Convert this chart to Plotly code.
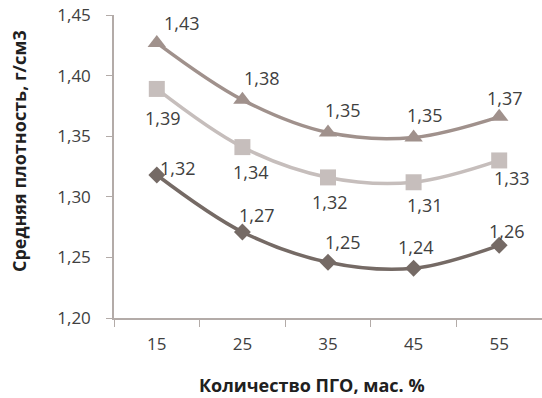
import plotly.graph_objects as go

categories = ["15", "25", "35", "45", "55"]
tri_values = [1.427, 1.380, 1.353, 1.349, 1.366]
tri_labels = ["1,43", "1,38", "1,35", "1,35", "1,37"]
sq_values = [1.389, 1.341, 1.316, 1.312, 1.330]
sq_labels = ["1,39", "1,34", "1,32", "1,31", "1,33"]
dia_values = [1.318, 1.271, 1.246, 1.241, 1.260]
dia_labels = ["1,32", "1,27", "1,25", "1,24", "1,26"]
y_ticks = [1.20, 1.25, 1.30, 1.35, 1.40, 1.45]
y_tick_labels = ["1,20", "1,25", "1,30", "1,35", "1,40", "1,45"]

# label offsets (pixels, x right / y up) relative to each marker
tri_offsets = [(25, 20), (20, 22), (15, 23), (11, 22), (6, 19)]
sq_offsets = [(6, -29), (9, -25), (2, -25), (11, -23), (13, -18)]
dia_offsets = [(21, 7), (15, 17), (15, 20), (2, 21), (8, 14)]

FONT = "Open Sans"
TXT = "#404040"

series = [
    (tri_values, tri_labels, tri_offsets, "#a0918c", "triangle-up", 16),
    (sq_values, sq_labels, sq_offsets, "#c6bebc", "square", 16),
    (dia_values, dia_labels, dia_offsets, "#756a65", "diamond", 13),
]

fig = go.Figure()
annotations = []
for vals, labels, offs, color, symbol, msize in series:
    fig.add_trace(go.Scatter(
        x=categories, y=vals, mode="lines+markers",
        line=dict(color=color, width=3.5, shape="spline", smoothing=1),
        marker=dict(symbol=symbol, size=msize, color=color),
        cliponaxis=False, hoverinfo="skip",
    ))
    for i, (v, t, (dx, dy)) in enumerate(zip(vals, labels, offs)):
        annotations.append(dict(
            x=i, y=v, xref="x", yref="y", text=t, showarrow=False,
            xanchor="center", yanchor="middle", xshift=dx, yshift=dy,
            font=dict(family=FONT, size=18, color=TXT),
        ))

annotations += [
    dict(text="<b>Количество ПГО, мас. %</b>", xref="paper", yref="paper",
         x=(312 - 114) / 428, y=-(385 - 318) / 303, xanchor="center", yanchor="middle",
         showarrow=False, font=dict(family=FONT, size=18, color="#202020")),
    dict(text="<b>Средняя плотность, г/см3</b>", xref="paper", yref="paper",
         x=-(114 - 19) / 428, y=(318 - 151) / 303, xanchor="center", yanchor="middle",
         textangle=-90, showarrow=False, font=dict(family=FONT, size=18, color="#202020")),
]

fig.update_layout(
    width=542, height=398,
    margin=dict(l=114, r=0, t=15, b=80),
    paper_bgcolor="white", plot_bgcolor="white",
    showlegend=False,
    xaxis=dict(
        type="category", range=[-0.5, 4.5], automargin=False,
        showline=True, linecolor="#b3aba8", linewidth=1.5,
        ticks="outside", tickson="boundaries", ticklen=7, tickcolor="#b3aba8",
        showgrid=False, zeroline=False, ticklabelstandoff=10,
        tickfont=dict(family=FONT, size=17, color=TXT),
    ),
    yaxis=dict(
        range=[1.20, 1.45], tickvals=y_ticks, ticktext=y_tick_labels, automargin=False,
        showline=True, linecolor="#b3aba8", linewidth=1.5,
        ticks="outside", ticklen=6, tickcolor="#b3aba8",
        showgrid=False, zeroline=False, ticklabelstandoff=12,
        tickfont=dict(family=FONT, size=17, color=TXT),
    ),
    annotations=annotations,
)

fig.write_html("out.html", config={"displayModeBar": False},
               post_script="document.body.style.margin='0';")
